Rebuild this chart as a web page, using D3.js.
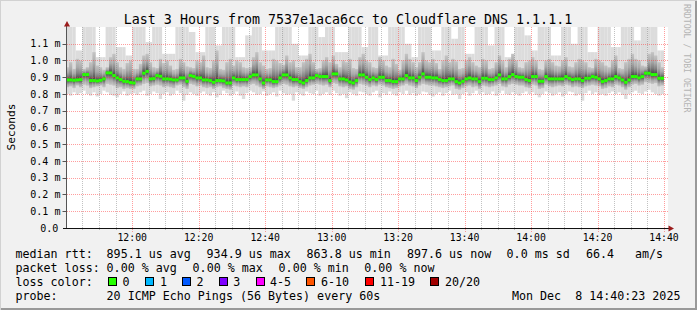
<!DOCTYPE html>
<html>
<head>
<meta charset="utf-8">
<script src="https://cdn.jsdelivr.net/npm/d3@7"></script>
<style>
    html, body { margin: 0; padding: 0; background: #f1f1f1; }
    svg text { font-family: "DejaVu Sans Mono", monospace; fill: #000; white-space: pre; }
</style>
</head>
<body>
<svg id="chart" width="697" height="310"></svg>
<script>
// one value per minute step, microseconds
const rttMedian = [
    884, 884, 882, 884, 886, 916, 916, 880, 880, 878,
    882, 890, 926, 926, 910, 896, 886, 876, 874, 868,
    866, 890, 890, 924, 935, 890, 892, 910, 906, 890,
    890, 888, 884, 884, 896, 896, 876, 910, 905, 896,
    896, 884, 884, 880, 870, 880, 880, 878, 866, 866,
    896, 886, 886, 886, 886, 904, 914, 914, 890, 866,
    884, 884, 874, 874, 896, 914, 914, 896, 886, 886,
    874, 866, 880, 896, 896, 910, 904, 904, 904, 880,
    920, 920, 890, 890, 884, 872, 866, 880, 914, 914,
    900, 886, 896, 886, 900, 900, 880, 880, 874, 874,
    890, 890, 910, 896, 896, 880, 900, 920, 900, 900,
    896, 896, 886, 880, 880, 890, 890, 874, 866, 876,
    890, 896, 890, 890, 874, 894, 894, 886, 886, 896,
    914, 890, 890, 904, 916, 904, 900, 900, 886, 880,
    904, 904, 876, 876, 904, 890, 890, 890, 890, 890,
    904, 894, 886, 890, 890, 880, 894, 894, 904, 900,
    890, 874, 880, 890, 890, 904, 896, 884, 870, 884,
    904, 904, 896, 904, 924, 924, 916, 916, 894, 894
]
const pingMax = [
    1200, 1200, 1200, 1060, 1060, 1200, 1200, 1200, 1200, 1020,
    1020, 1020, 1200, 1200, 1200, 1080, 1080, 1080, 1030, 1030,
    1200, 1200, 1200, 1200, 1110, 1110, 1200, 1200, 1200, 1040,
    1040, 1040, 1040, 1200, 1200, 1200, 1200, 1170, 1170, 1050,
    1050, 1050, 1200, 1200, 1200, 1090, 1090, 1200, 1200, 1200,
    1200, 1020, 1020, 1020, 1150, 1150, 1200, 1200, 1200, 1060,
    1060, 1060, 1060, 1200, 1200, 1200, 1200, 1200, 1100, 1100,
    1030, 1030, 1030, 1200, 1200, 1200, 1140, 1140, 1200, 1200,
    1200, 1050, 1050, 1050, 1050, 1200, 1200, 1200, 1200, 1080,
    1080, 1200, 1200, 1200, 1030, 1030, 1030, 1200, 1200, 1200,
    1200, 1200, 1100, 1100, 1020, 1020, 1200, 1200, 1200, 1200,
    1060, 1060, 1060, 1200, 1200, 1200, 1130, 1130, 1200, 1200,
    1040, 1040, 1040, 1200, 1200, 1200, 1200, 1090, 1090, 1200,
    1200, 1200, 1020, 1020, 1020, 1200, 1200, 1200, 1150, 1150,
    1060, 1060, 1200, 1200, 1200, 1200, 1030, 1030, 1030, 1200,
    1200, 1200, 1100, 1100, 1200, 1200, 1200, 1050, 1050, 1050,
    1200, 1200, 1200, 1200, 1080, 1080, 1080, 1200, 1200, 1200,
    1200, 1120, 1120, 1200, 1200, 1200, 1200, 1200, 1060, 1060
]
const pingUpper = [
    960, 990, 950, 1010, 1000, 950, 960, 990, 1050, 970,
    960, 945, 960, 1020, 1040, 990, 960, 950, 985, 1000,
    950, 950, 980, 1030, 1040, 990, 960, 955, 1010, 985,
    1000, 970, 945, 950, 1010, 990, 965, 960, 955, 1000,
    990, 1030, 960, 955, 1000, 1060, 950, 945, 990, 1010,
    970, 1000, 990, 960, 955, 960, 1020, 1050, 990, 970,
    950, 955, 1010, 1000, 985, 975, 1030, 990, 1000, 960,
    960, 990, 1010, 1040, 990, 950, 955, 1000, 1020, 990,
    1030, 980, 960, 1000, 990, 1010, 955, 950, 1020, 1040,
    1000, 990, 960, 955, 1020, 1000, 970, 960, 1010, 980,
    945, 1000, 1040, 1010, 990, 960, 990, 1050, 1000, 990,
    1010, 985, 950, 1000, 1030, 990, 1010, 995, 950, 955,
    1000, 1020, 990, 970, 960, 1010, 1000, 950, 955, 990,
    1030, 1000, 960, 1010, 1040, 1000, 960, 955, 990, 1000,
    1020, 1000, 950, 945, 1000, 1010, 990, 970, 965, 1000,
    1020, 965, 960, 990, 1010, 1000, 990, 960, 955, 1010,
    1000, 990, 970, 960, 1000, 1030, 955, 950, 990, 1010,
    1040, 1010, 1000, 970, 965, 1040, 1050, 1030, 990, 960
]
const pingLower = [
    840, 845, 835, 850, 840, 855, 850, 835, 840, 845,
    850, 840, 860, 855, 850, 835, 840, 830, 835, 830,
    830, 845, 850, 860, 865, 845, 850, 855, 850, 840,
    845, 840, 835, 850, 855, 840, 830, 860, 855, 845,
    850, 840, 835, 840, 830, 840, 845, 835, 830, 825,
    850, 845, 840, 845, 840, 855, 860, 850, 840, 830,
    845, 840, 835, 840, 850, 860, 855, 845, 840, 845,
    835, 830, 840, 850, 855, 860, 855, 850, 855, 840,
    865, 860, 845, 840, 845, 830, 825, 840, 860, 855,
    850, 840, 850, 845, 855, 850, 840, 835, 830, 835,
    845, 850, 860, 850, 845, 835, 850, 860, 855, 850,
    850, 845, 840, 835, 840, 845, 850, 830, 825, 835,
    845, 850, 840, 845, 830, 850, 845, 840, 845, 850,
    860, 845, 840, 855, 860, 855, 850, 850, 840, 835,
    855, 850, 830, 835, 855, 845, 840, 845, 850, 845,
    855, 850, 840, 845, 840, 835, 845, 850, 855, 850,
    845, 830, 835, 845, 840, 855, 850, 840, 825, 840,
    855, 860, 850, 855, 870, 865, 860, 865, 845, 850
]
const pingMin = [
    800, 790, 810, 795, 805, 820, 800, 790, 810, 785,
    800, 820, 810, 795, 790, 780, 800, 815, 790, 800,
    805, 795, 810, 820, 790, 800, 815, 805, 770, 800,
    810, 790, 800, 820, 805, 760, 795, 810, 800, 790,
    805, 815, 800, 790, 810, 780, 795, 820, 805, 790,
    800, 815, 790, 770, 805, 820, 810, 795, 800, 815,
    790, 800, 810, 785, 820, 805, 795, 800, 760, 810,
    800, 790, 815, 805, 800, 820, 790, 800, 810, 795,
    820, 805, 790, 800, 775, 810, 800, 790, 815, 810,
    800, 790, 810, 820, 780, 805, 795, 815, 800, 790,
    810, 800, 820, 795, 805, 790, 800, 815, 810, 795,
    785, 800, 810, 790, 805, 820, 795, 800, 770, 800,
    810, 790, 805, 820, 800, 810, 795, 800, 815, 790,
    805, 820, 800, 795, 810, 800, 790, 805, 815, 800,
    810, 795, 780, 800, 815, 805, 790, 800, 810, 785,
    800, 815, 810, 790, 800, 760, 805, 820, 800, 810,
    795, 800, 790, 805, 815, 800, 810, 795, 770, 800,
    810, 820, 805, 800, 815, 825, 810, 800, 790, 800
]

const yTicks = [0, 0.1, 0.2, 0.3, 0.4, 0.5, 0.6, 0.7, 0.8, 0.9, 1.0, 1.1]
const yTickLabels = ["0.0", "0.1 m", "0.2 m", "0.3 m", "0.4 m", "0.5 m", "0.6 m", "0.7 m", "0.8 m", "0.9 m", "1.0 m", "1.1 m"]
const xTickLabels = ["12:00", "12:20", "12:40", "13:00", "13:20", "13:40", "14:00", "14:20", "14:40"]

const rttStats = ["895.1 us avg", "934.9 us max", "863.8 us min", "897.6 us now", "0.0 ms sd", "66.4", "am/s"]
const lossStats = ["0.00 % avg", "0.00 % max", "0.00 % min", "0.00 % now"]
const lossBins = ["0", "1", "2", "3", "4-5", "6-10", "11-19", "20/20"]
const lossColors = ["#26ff00", "#00b8ff", "#0059ff", "#7e00ff", "#ff00ff", "#ff5500", "#ff0000", "#a10000"]

const title = "Last 3 Hours from 7537e1aca6cc to Cloudflare DNS 1.1.1.1"
const probeText = "20 ICMP Echo Pings (56 Bytes) every 60s"
const dateText = "Mon Dec  8 14:40:23 2025"

const svg = d3.select("#chart")
const width = +svg.attr("width"),
    height = +svg.attr("height")

const tStart = new Date(2025, 11, 8, 11, 40, 23),
    tEnd = new Date(2025, 11, 8, 14, 40, 23),
    firstStep = new Date(2025, 11, 8, 11, 40, 0)

const x = d3.scaleTime().domain([tStart, tEnd]).range([67, 665.3])
const y = d3.scaleLinear().domain([0, 1.2]).range([228, 27])

// background + 3d frame
svg.append("rect").attr("width", width).attr("height", height).attr("fill", "#f1f1f1")
svg.append("path").attr("d", `M0,${height}V0H${width}`).attr("fill", "none")
    .attr("stroke", "#d2d2d2").attr("stroke-width", 2)
svg.append("path").attr("d", `M1,${height - 1}H${width - 1}V1`).attr("fill", "none")
    .attr("stroke", "#999").attr("stroke-width", 2)

// canvas
svg.append("rect").attr("x", 67).attr("y", 27).attr("width", 601).attr("height", 201).attr("fill", "#fff")

const steps = rttMedian.map((m, i) => ({
    t0: d3.timeMinute.offset(firstStep, i),
    t1: d3.timeMinute.offset(firstStep, i + 1),
    med: m / 1000,
    max: pingMax[i] / 1000,
    upper: pingUpper[i] / 1000,
    lower: pingLower[i] / 1000,
    min: pingMin[i] / 1000
}))

const defs = svg.append("defs")
defs.append("clipPath").attr("id", "plotClip")
    .append("rect").attr("x", 67).attr("y", 27).attr("width", x.range()[1] - 67).attr("height", 201)

// smoke gradient per step, darkest at the median
defs.selectAll("linearGradient")
    .data(steps)
    .join("linearGradient")
    .attr("id", (d, i) => "smoke" + i)
    .attr("gradientUnits", "userSpaceOnUse")
    .attr("x1", 0).attr("x2", 0)
    .attr("y1", d => y(d.upper))
    .attr("y2", d => y(d.lower))
    .each(function (d) {
        let m = (y(d.med) - y(d.upper)) / (y(d.lower) - y(d.upper))
        m = Math.max(0.08, Math.min(0.92, m))
        const stops = [
            [0, "#c4c4c4"], [m * 0.4, "#aaaaaa"], [m * 0.7, "#808080"], [m * 0.9, "#555555"], [m, "#3e3e3e"],
            [m + (1 - m) * 0.12, "#555555"], [m + (1 - m) * 0.35, "#808080"], [m + (1 - m) * 0.65, "#aaaaaa"], [1, "#c4c4c4"]
        ]
        d3.select(this).selectAll("stop").data(stops).join("stop")
            .attr("offset", s => s[0]).attr("stop-color", s => s[1])
    })

const plot = svg.append("g").attr("clip-path", "url(#plotClip)")

plot.append("g").selectAll("rect")
    .data(steps)
    .join("rect")
    .attr("x", d => x(d.t0))
    .attr("width", d => x(d.t1) - x(d.t0))
    .attr("y", d => y(d.max))
    .attr("height", d => y(d.min) - y(d.max))
    .attr("fill", "#dcdcdc")

plot.append("g").selectAll("rect")
    .data(steps)
    .join("rect")
    .attr("x", d => x(d.t0))
    .attr("width", d => x(d.t1) - x(d.t0))
    .attr("y", d => y(d.upper))
    .attr("height", d => y(d.lower) - y(d.upper))
    .attr("fill", (d, i) => `url(#smoke${i})`)

// grid on top of the smoke
const minorTimes = x.ticks(d3.timeMinute.every(5)).filter(t => t.getMinutes() % 20 !== 0)
const majorTimes = x.ticks(d3.timeMinute.every(20))

svg.append("g").selectAll("line")
    .data(minorTimes)
    .join("line")
    .attr("x1", d => Math.round(x(d)) + 0.5).attr("x2", d => Math.round(x(d)) + 0.5)
    .attr("y1", 27).attr("y2", 230)
    .attr("stroke", "rgba(120,120,120,0.45)").attr("stroke-dasharray", "1,1")

svg.append("g").selectAll("line")
    .data(yTicks.slice(1))
    .join("line")
    .attr("x1", 67).attr("x2", 668)
    .attr("y1", d => Math.round(y(d)) + 0.5).attr("y2", d => Math.round(y(d)) + 0.5)
    .attr("stroke", "rgba(255,60,60,0.5)").attr("stroke-dasharray", "1,1")

svg.append("g").selectAll("line")
    .data(majorTimes)
    .join("line")
    .attr("x1", d => Math.round(x(d)) + 0.5).attr("x2", d => Math.round(x(d)) + 0.5)
    .attr("y1", 27).attr("y2", 232)
    .attr("stroke", "rgba(255,60,60,0.5)").attr("stroke-dasharray", "1,1")

// median rtt, coloured by loss (all zero loss here)
svg.append("g").attr("clip-path", "url(#plotClip)").selectAll("rect")
    .data(steps)
    .join("rect")
    .attr("x", d => x(d.t0))
    .attr("width", d => x(d.t1) - x(d.t0))
    .attr("y", d => y(d.med) - 1.5)
    .attr("height", 3)
    .attr("fill", lossColors[0])

// axes
svg.append("line").attr("x1", 66.5).attr("x2", 66.5).attr("y1", 228).attr("y2", 24)
    .attr("stroke", "#555")
svg.append("line").attr("x1", 63).attr("x2", 670).attr("y1", 228.5).attr("y2", 228.5)
    .attr("stroke", "#111")
svg.append("path").attr("d", "M64,26.5L67,21L70,26.5Z").attr("fill", "#9b1c1c")
svg.append("path").attr("d", "M668.5,225.5L674,228.5L668.5,231.5Z").attr("fill", "#9b1c1c")

svg.append("g").selectAll("line")
    .data(yTicks.slice(1))
    .join("line")
    .attr("x1", 62.5).attr("x2", 67)
    .attr("y1", d => Math.round(y(d)) + 0.5).attr("y2", d => Math.round(y(d)) + 0.5)
    .attr("stroke", "#555")

svg.append("g").selectAll("text")
    .data(yTicks)
    .join("text")
    .attr("x", (d, i) => i === 0 ? 40.3 : 30.3)
    .attr("y", d => y(d) + 3.6)
    .attr("font-size", "10px")
    .text((d, i) => yTickLabels[i])

svg.append("g").selectAll("text")
    .data(majorTimes)
    .join("text")
    .attr("x", d => x(d))
    .attr("y", 241)
    .attr("text-anchor", "middle")
    .attr("font-size", "9.8px")
    .text((d, i) => xTickLabels[i])

svg.append("text")
    .attr("transform", "translate(14.5,127) rotate(-90)")
    .attr("text-anchor", "middle")
    .attr("font-size", "11.2px")
    .text("Seconds")

svg.append("text")
    .attr("x", 348).attr("y", 23.5)
    .attr("text-anchor", "middle")
    .attr("font-size", "13.3px")
    .text(title)

svg.append("text")
    .attr("transform", "translate(684,4) rotate(90)")
    .attr("font-size", "8.2px")
    .style("fill", "#b4b4b4")
    .text("RRDTOOL / TOBI OETIKER")

// legend
const legend = svg.append("g").attr("font-size", "11.66px")
const rowY = [258, 272, 286, 300]
legend.selectAll("text.lab")
    .data(["median rtt:", "packet loss:", "loss color:", "probe:"])
    .join("text")
    .attr("class", "lab")
    .attr("x", 15.5).attr("y", (d, i) => rowY[i])
    .text(d => d)

const rttX = [106.6, 206.6, 306.6, 407, 506.6, 586, 635]
legend.selectAll("text.rtt")
    .data(rttStats)
    .join("text")
    .attr("class", "rtt")
    .attr("x", (d, i) => rttX[i]).attr("y", rowY[0])
    .text(d => d)

const lossX = [106.6, 192.6, 278.6, 364.3]
legend.selectAll("text.loss")
    .data(lossStats)
    .join("text")
    .attr("class", "loss")
    .attr("x", (d, i) => lossX[i]).attr("y", rowY[1])
    .text(d => d)

const boxX = [108.5, 145.5, 182.5, 219.5, 256.5, 306.5, 365.5, 430.5]
const binX = [122.6, 160, 196.6, 233.3, 270, 321, 380, 445]
legend.selectAll("rect.box")
    .data(lossColors)
    .join("rect")
    .attr("class", "box")
    .attr("x", (d, i) => boxX[i]).attr("y", 277.5)
    .attr("width", 8).attr("height", 8)
    .attr("fill", d => d).attr("stroke", "#000")
legend.selectAll("text.bin")
    .data(lossBins)
    .join("text")
    .attr("class", "bin")
    .attr("x", (d, i) => binX[i]).attr("y", rowY[2])
    .text(d => d)

legend.append("text").attr("x", 106.6).attr("y", rowY[3]).text(probeText)
legend.append("text").attr("x", 512).attr("y", rowY[3]).text(dateText)
</script>
</body>
</html>
